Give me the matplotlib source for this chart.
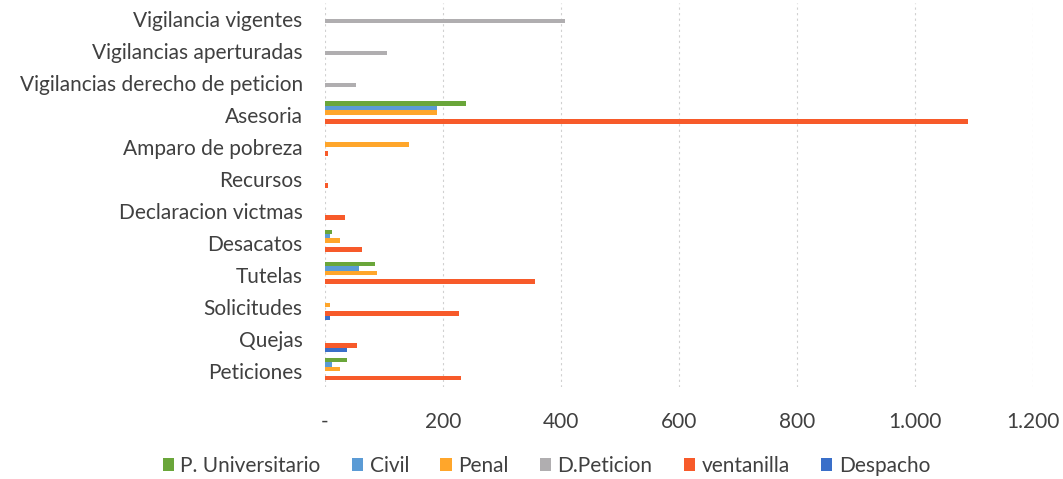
import numpy as np
import matplotlib.pyplot as plt
from matplotlib.ticker import FuncFormatter

plt.rcParams['font.family'] = ['Lato', 'DejaVu Sans']

categorias = ["Vigilancia vigentes", "Vigilancias aperturadas",
              "Vigilancias derecho de peticion", "Asesoria", "Amparo de pobreza",
              "Recursos", "Declaracion victmas", "Desacatos", "Tutelas",
              "Solicitudes", "Quejas", "Peticiones"]

# valores (de arriba hacia abajo)
p_univ = [0, 0, 0, 239, 0, 0, 0, 12, 85, 0, 0, 37]
civil = [0, 0, 0, 190, 0, 0, 0, 8, 58, 0, 0, 12]
penal = [0, 0, 0, 190, 143, 0, 0, 25, 88, 8, 0, 25]
d_peticion = [407, 105, 52, 0, 0, 0, 0, 0, 0, 0, 0, 0]
ventanilla = [0, 0, 0, 1090, 6, 5, 34, 63, 356, 227, 54, 230]
despacho = [0, 0, 0, 0, 0, 0, 0, 0, 0, 8, 37, 0]

series = [("P. Universitario", p_univ, "#6aa63a"),
          ("Civil", civil, "#5b9bd5"),
          ("Penal", penal, "#ffa62b"),
          ("D.Peticion", d_peticion, "#b0aeb0"),
          ("ventanilla", ventanilla, "#f75a2a"),
          ("Despacho", despacho, "#3a6fc9")]

fig = plt.figure(figsize=(10.63, 4.79), dpi=100)
ax = fig.add_axes([0.3057, 0.192, 0.666, 0.802])

y = np.arange(len(categorias))
h = 0.14
for i, (nombre, vals, col) in enumerate(series):
    ax.barh(y + (i - 2.5) * h, vals, height=h, color=col, label=nombre)

ax.set_ylim(len(categorias) - 0.5, -0.5)
ax.set_xlim(0, 1200)
ax.set_xticks(np.arange(0, 1201, 200))
ax.xaxis.set_major_formatter(FuncFormatter(
    lambda v, p: "-" if v == 0 else f"{int(v):,}".replace(",", ".")))
ax.set_yticks(y)
ax.set_yticklabels(categorias)

for s in ax.spines.values():
    s.set_visible(False)
ax.tick_params(length=0, labelsize=15, colors="#404040")
ax.tick_params(axis='x', pad=18)
ax.tick_params(axis='y', pad=16)
ax.grid(axis='x', color="#d0d0d0", linestyle=(0, (2, 3)), linewidth=0.8)
ax.set_axisbelow(True)

fig.legend(loc='center', bbox_to_anchor=(0.514, 0.027), ncol=6, frameon=False,
           fontsize=15, handlelength=0.55, handleheight=0.55, handletextpad=0.3,
           columnspacing=1.5, labelcolor="#404040")

fig.savefig("out.png", dpi=100)
